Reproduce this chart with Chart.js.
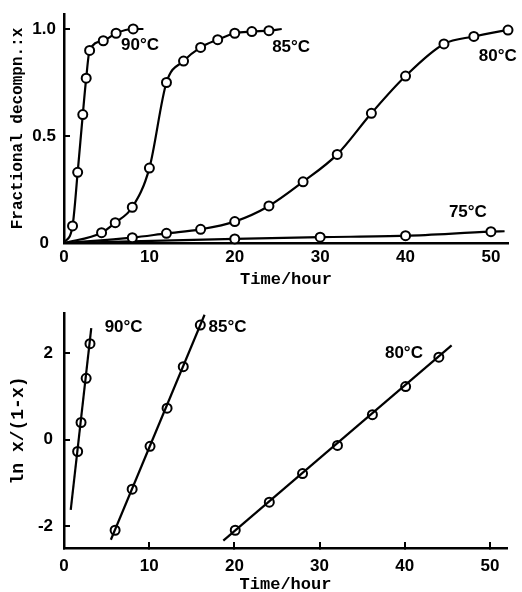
<!DOCTYPE html>
<html>
<head>
<meta charset="utf-8">
<script src="https://cdn.jsdelivr.net/npm/chart.js@4.4.1/dist/chart.umd.min.js"></script>
<style>
  html, body { margin: 0; padding: 0; background: #fff; overflow: hidden; }
  #arriba { position: absolute; left: 0; top: 0; }
  #abajo { position: absolute; left: 0; top: 295px; }
</style>
</head>
<body>
<canvas id="arriba" width="522" height="295"></canvas>
<canvas id="abajo" width="522" height="302"></canvas>
<script>
// Fraccion descompuesta x frente al tiempo (h); primer y ultimo valor = extremos de la curva
const t90 = [0, 1, 1.6, 2.2, 2.6, 3, 4.6, 6.1, 8.1, 9.3];
const x90 = [0, 0.08, 0.33, 0.6, 0.77, 0.9, 0.945, 0.98, 1.0, 1.0];
const t85 = [0, 4.4, 6, 8, 10, 12, 14, 16, 18, 20, 22, 24, 25.5];
const x85 = [0, 0.048, 0.095, 0.167, 0.35, 0.75, 0.85, 0.914, 0.95, 0.98, 0.988, 0.992, 1.0];
const t80 = [0, 8, 12, 16, 20, 24, 28, 32, 36, 40, 44.5, 48, 52, 53.5];
const x80 = [0, 0.025, 0.045, 0.064, 0.1, 0.173, 0.286, 0.414, 0.606, 0.78, 0.93, 0.965, 0.995, 1.0];
const t75 = [0, 20, 30, 40, 50, 51.6];
const x75 = [0, 0.019, 0.027, 0.034, 0.053, 0.055];

// ln x/(1-x) frente al tiempo: puntos
const tl90 = [1.6, 2.0, 2.6, 3.05];
const yl90 = [-0.27, 0.4, 1.42, 2.22];
const tl85 = [6.0, 8.0, 10.1, 12.1, 14.0, 16.0];
const yl85 = [-2.09, -1.14, -0.15, 0.73, 1.69, 2.65];
const tl80 = [20.1, 24.1, 28, 32.1, 36.2, 40.1, 44];
const yl80 = [-2.09, -1.44, -0.78, -0.13, 0.58, 1.23, 1.91];
// rectas ajustadas (extremos)
const rt90 = [0.79, 3.2];
const ry90 = [-1.62, 2.58];
const rt85 = [5.5, 16.5];
const ry85 = [-2.31, 2.89];
const rt80 = [18.7, 45.5];
const ry80 = [-2.33, 2.18];

// ticks
const ticksX = [0, 10, 20, 30, 40, 50];
const ticksYArriba = [0, 0.5, 1.0];
const ticksYAbajo = [-2, 0, 2];

// etiquetas de temperatura
const etiquetasArriba = [
  { texto: '90°C', x: 8.9, y: 0.923 },
  { texto: '85°C', x: 26.6, y: 0.916 },
  { texto: '80°C', x: 50.8, y: 0.874 },
  { texto: '75°C', x: 47.3, y: 0.143 }
];
const etiquetasAbajo = [
  { texto: '90°C', x: 7.0, y: 2.59 },
  { texto: '85°C', x: 19.2, y: 2.59 },
  { texto: '80°C', x: 39.9, y: 2.01 }
];

const mono = "'Liberation Mono', 'DejaVu Sans Mono', monospace";
const sans = "'Liberation Sans', Arial, sans-serif";

function pares(xs, ys) {
  return xs.map((v, i) => ({ x: v, y: ys[i] }));
}

// Curva con marcadores (sin marcador en los extremos de la curva)
function curva(xs, ys) {
  return {
    data: pares(xs, ys),
    borderColor: '#000',
    borderWidth: 2.2,
    backgroundColor: '#fff',
    pointBackgroundColor: '#fff',
    pointBorderColor: '#000',
    pointBorderWidth: 2,
    pointRadius: ctx => (ctx.dataIndex === 0 || ctx.dataIndex === xs.length - 1) ? 0 : 4.5,
    cubicInterpolationMode: 'monotone',
    clip: false
  };
}

function recta(xs, ys) {
  return {
    data: pares(xs, ys),
    borderColor: '#000',
    borderWidth: 2.2,
    pointRadius: 0,
    clip: false
  };
}

function puntos(xs, ys) {
  return {
    data: pares(xs, ys),
    showLine: false,
    pointBackgroundColor: '#fff',
    pointBorderColor: '#000',
    pointBorderWidth: 2,
    pointRadius: 4.5,
    clip: false
  };
}

const etiquetasPlugin = {
  id: 'etiquetas',
  afterDatasetsDraw(chart, args, opts) {
    const ctx = chart.ctx;
    ctx.save();
    ctx.fillStyle = '#000';
    ctx.font = 'bold 17px ' + sans;
    ctx.textAlign = 'center';
    ctx.textBaseline = 'middle';
    opts.lista.forEach(e => {
      ctx.fillText(e.texto, chart.scales.x.getPixelForValue(e.x), chart.scales.y.getPixelForValue(e.y));
    });
    ctx.restore();
  }
};

function ejeX(alto, ticksInternos, padding, padTitulo) {
  return {
    type: 'linear',
    min: 0,
    max: 52,
    afterBuildTicks: s => { s.ticks = ticksX.map(v => ({ value: v })); },
    afterFit: s => { s.height = alto; s.paddingLeft = 0; s.paddingRight = 0; },
    border: { display: true, color: '#000', width: 2.5 },
    grid: {
      display: ticksInternos,
      drawOnChartArea: false,
      drawTicks: ticksInternos,
      tickLength: -6,
      color: '#000',
      lineWidth: 2
    },
    ticks: {
      color: '#000',
      padding: padding,
      maxRotation: 0,
      font: { family: sans, size: 17, weight: 'bold' }
    },
    title: {
      display: true,
      text: 'Time/hour',
      color: '#000',
      padding: { top: 0, bottom: padTitulo },
      font: { family: mono, size: 17, weight: 'bold' }
    }
  };
}

function ejeY(min, max, lista, titulo, alinear, padding, fmt, tamTitulo) {
  return {
    type: 'linear',
    min: min,
    max: max,
    afterBuildTicks: s => { s.ticks = lista.map(v => ({ value: v })); },
    afterFit: s => { s.width = 64; s.paddingTop = 0; s.paddingBottom = 0; },
    border: { display: true, color: '#000', width: 2.5 },
    grid: {
      display: true,
      drawOnChartArea: false,
      drawTicks: true,
      tickLength: -6,
      color: '#000',
      lineWidth: 2
    },
    ticks: {
      color: '#000',
      padding: padding,
      crossAlign: alinear,
      callback: fmt,
      font: { family: sans, size: 17, weight: 'bold' }
    },
    title: {
      display: true,
      text: titulo,
      color: '#000',
      padding: { top: 8, bottom: 0 },
      font: { family: mono, size: tamTitulo, weight: 'bold' }
    }
  };
}

new Chart(document.getElementById('arriba').getContext('2d'), {
  type: 'line',
  data: {
    datasets: [curva(t90, x90), curva(t85, x85), curva(t80, x80), curva(t75, x75)]
  },
  options: {
    responsive: false,
    animation: false,
    layout: { padding: { top: 14, right: 14, left: 0, bottom: 0 } },
    plugins: { legend: { display: false }, tooltip: { enabled: false }, etiquetas: { lista: etiquetasArriba } },
    scales: {
      x: ejeX(52, false, 4, 5),
      y: ejeY(0, 1.07, ticksYArriba, 'Fractional decompn.:x', 'center', 14, v => v === 0 ? '0' : v.toFixed(1), 16)
    }
  },
  plugins: [etiquetasPlugin]
});

new Chart(document.getElementById('abajo').getContext('2d'), {
  type: 'line',
  data: {
    datasets: [
      recta(rt90, ry90), recta(rt85, ry85), recta(rt80, ry80),
      puntos(tl90, yl90), puntos(tl85, yl85), puntos(tl80, yl80)
    ]
  },
  options: {
    responsive: false,
    animation: false,
    layout: { padding: { top: 18, right: 15, left: 0, bottom: 0 } },
    plugins: { legend: { display: false }, tooltip: { enabled: false }, etiquetas: { lista: etiquetasAbajo } },
    scales: {
      x: ejeX(49, true, 14, 2),
      y: ejeY(-2.5, 2.93, ticksYAbajo, 'ln x/(1-x)', 'near', 17, v => String(v), 18)
    }
  },
  plugins: [etiquetasPlugin]
});
</script>
</body>
</html>
